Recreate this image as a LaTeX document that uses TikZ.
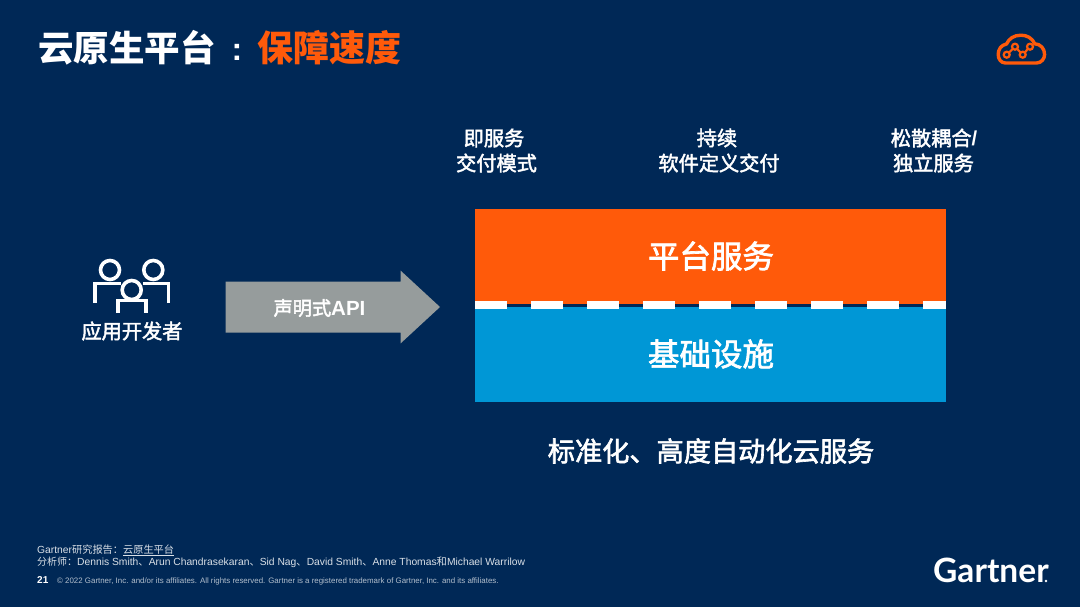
\documentclass[tikz,border=0pt]{standalone}
\usepackage{fontspec}
\setmainfont{Liberation Sans}
\newfontfamily\cjkf{Noto Sans CJK SC}
\newfontfamily\cjkm[FakeBold=2.2]{Noto Sans CJK SC}
\newfontfamily\logof{Lato}
\definecolor{bgnavy}{HTML}{002856}
\definecolor{gorange}{HTML}{FF5A0A}
\definecolor{gblue}{HTML}{0097D6}
\definecolor{ggray}{HTML}{969C9C}
\tikzset{
  lbl/.style={text=white,inner sep=0pt,font=\cjkm\fontsize{20.2}{25}\selectfont,align=center},
  bigl/.style={text=white,inner sep=0pt,font=\cjkm\fontsize{31.5}{36}\selectfont},
  foot/.style={text=white!85!bgnavy,inner sep=0pt,anchor=base west},
  icon/.style={draw=white,line width=3.6pt,line join=miter},
  cloud/.style={draw=gorange,line width=3.4pt},
  whitedash/.style={fill=white,draw=none}
}
\begin{document}
\begin{tikzpicture}[x=1pt,y=-1pt]
\useasboundingbox (0,0) rectangle (1080,607);
\fill[bgnavy] (0,0) rectangle (1080,607);
% title
\node[inner sep=0pt,anchor=base west,text=white,font=\cjkf\bfseries\fontsize{35.5}{40}\selectfont] (t1) at (38,62) {云原生平台};
\node[inner sep=0pt,anchor=base,text=white,font=\bfseries\fontsize{32}{36}\selectfont] (tc) at (237,61) {:};
\node[inner sep=0pt,anchor=base west,text=gorange,font=\cjkf\bfseries\fontsize{36}{40}\selectfont] (t2) at (257,62) {保障速度};
% cloud icon
\draw[cloud,line join=round] (1005.5,63) -- (1036.5,63)
  .. controls (1041.5,63) and (1044.6,58.5) .. (1044.6,54.5)
  .. controls (1044.6,48.5) and (1040.5,44) .. (1034.8,43.8)
  .. controls (1032,38) and (1027,35.2) .. (1021,35.2)
  .. controls (1014,35.2) and (1009,38.5) .. (1006.5,44)
  .. controls (1001,45) and (998.2,49.5) .. (998.2,54.5)
  .. controls (998.2,59) and (1001,63) .. (1005.5,63) -- cycle;
\draw[gorange,line width=2.2pt] (1006.7,54.7) circle (3);
\draw[gorange,line width=2.2pt] (1015,46.7) circle (3);
\draw[gorange,line width=2.2pt] (1022.7,54.7) circle (3);
\draw[gorange,line width=2.2pt] (1030,46.7) circle (3);
\draw[gorange,line width=2.2pt] (1008.9,52.6) -- (1012.9,48.8) (1017,48.8) -- (1020.7,52.6) (1024.8,52.6) -- (1027.9,48.8);
% top labels
\node[lbl] (a1) at (494,138) {即服务};
\node[lbl] (a2) at (496.5,163) {交付模式};
\node[lbl] (b1) at (717,138) {持续};
\node[lbl] (b2) at (719,163) {软件定义交付};
\node[lbl] (c1) at (934,138) {松散耦合{\rmfamily\bfseries /}};
\node[lbl] (c2) at (933.5,163) {独立服务};
% people icon
\draw[icon] (110,270) circle (9.5);
\draw[icon] (153.3,270) circle (9.5);
\draw[icon] (131.7,290) circle (9.5);
\draw[icon] (95,303) -- (95,283.5) -- (120.5,283.5);
\draw[icon] (168.4,303) -- (168.4,283.5) -- (143,283.5);
\draw[icon] (118,313) -- (118,300.5) -- (146,300.5) -- (146,313);
\node[lbl,font=\cjkm\fontsize{20.2}{25}\selectfont] (dev) at (132,331) {应用开发者};
% arrow
\fill[ggray] (225.7,281.7) -- (400.7,281.7) -- (400.7,270.7) -- (440,307) -- (400.7,343.3) -- (400.7,332.7) -- (225.7,332.7) -- cycle;
\node[text=white,inner sep=0pt] (api) at (319.5,308) {\cjkm\fontsize{19.2}{24}\selectfont 声明式\rmfamily\bfseries\fontsize{20.5}{24}\selectfont API};
% stack
\fill[gorange] (475,209) rectangle (946,303.5);
\fill[bgnavy] (475,303.5) rectangle (946,307);
\fill[gblue] (475,307) rectangle (946,402);
\foreach \xa/\xb in {475/507,531/563,587/619,643/675,699/731,755/787,811/843,867/899,923/946}
  \fill[whitedash] (\xa,301) rectangle (\xb,309);
\node[bigl] (svc) at (711,256) {平台服务};
\node[bigl] (inf) at (711,354) {基础设施};
\node[text=white,inner sep=0pt,font=\cjkm\fontsize{27.2}{32}\selectfont] (std) at (711,451) {标准化、高度自动化云服务};
% footer
\node[foot] (f1) at (37,553) {\fontsize{10.3}{11}\selectfont Gartner\cjkf\fontsize{10.2}{11}\selectfont 研究报告：\underline{云原生平台}};
\node[foot] (f2) at (37,565.5) {\fontsize{10.3}{11}\selectfont {\cjkf\fontsize{10}{11}\selectfont 分析师：}Dennis Smith{\cjkf 、}Arun Chandrasekaran{\cjkf 、}Sid Nag{\cjkf 、}David Smith{\cjkf 、}Anne Thomas{\cjkf 和}Michael Warrilow};
\node[foot,text=white] (f3) at (37,583) {\fontsize{10}{11}\selectfont\bfseries 21};
\node[foot,text=white!70!bgnavy] (f4) at (57,583) {\fontsize{7.9}{9}\selectfont © 2022 Gartner, Inc. and/or its affiliates. All rights reserved. Gartner is a registered trademark of Gartner, Inc. and its affiliates.};
% logo
\node[inner sep=0pt,anchor=base west,text=white,font=\logof\bfseries\fontsize{33.5}{36}\selectfont] (logo) at (933,582) {Gartner};
\fill[white] (1046,581) circle (1.4);
\end{tikzpicture}
\end{document}
